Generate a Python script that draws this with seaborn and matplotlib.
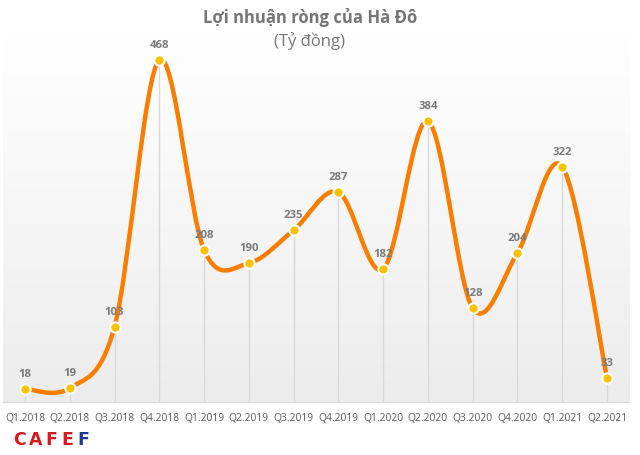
import numpy as np
import matplotlib
matplotlib.use("Agg")
import matplotlib.pyplot as plt
from matplotlib.path import Path
from matplotlib.patches import PathPatch
from matplotlib.colors import LinearSegmentedColormap
import seaborn as sns

quarters = ["Q1.2018", "Q2.2018", "Q3.2018", "Q4.2018", "Q1.2019", "Q2.2019", "Q3.2019",
            "Q4.2019", "Q1.2020", "Q2.2020", "Q3.2020", "Q4.2020", "Q1.2021", "Q2.2021"]
profit = [18, 19, 103, 468, 208, 190, 235, 287, 182, 384, 128, 204, 322, 33]

sns.set_style("white")
plt.rcParams['font.family'] = ['Open Sans', 'DejaVu Sans']

fig = plt.figure(figsize=(6.4, 4.55), dpi=100)
ax = fig.add_axes([2.6 / 640, 53 / 455, 626.8 / 640, 365.5 / 455])

x = np.arange(len(profit))
y = np.array(profit, dtype=float)

# background gradient (white top -> light grey bottom)
cmap = LinearSegmentedColormap.from_list("bg", ["#ECECEC", "#FFFFFF"])
ax.imshow(np.linspace(0, 1, 256).reshape(-1, 1), cmap=cmap, extent=[0, 1, 0, 1],
          transform=ax.transAxes, aspect='auto', origin='lower', zorder=0)

# drop lines
ax.vlines(x, 0, y, color="#D9D9D9", lw=1, zorder=1)

# smoothed line like excel (catmull-rom bezier)
pts = np.column_stack([x, y])
verts = [pts[0]]
codes = [Path.MOVETO]
n = len(pts)
for i in range(n - 1):
    p0 = pts[max(i - 1, 0)]
    p1 = pts[i]
    p2 = pts[i + 1]
    p3 = pts[min(i + 2, n - 1)]
    c1 = p1 + (p2 - p0) / 6
    c2 = p2 - (p3 - p1) / 6
    verts += [c1, c2, p2]
    codes += [Path.CURVE4] * 3
ax.add_patch(PathPatch(Path(verts, codes), fc="none", ec="#FA7D00", lw=3.2,
                       capstyle='round', zorder=2))

sns.scatterplot(x=x, y=y, ax=ax, color="#FFC000", s=55, edgecolor="white",
                linewidth=1.5, zorder=4, legend=False)

for xi, v in zip(x, profit):
    ax.annotate(str(v), (xi, v), xytext=(0, 10.5), textcoords="offset points",
                ha="center", va="center", fontsize=8.2, fontweight="bold",
                color="#7A7A7A", zorder=5)

ax.set_xlim(-0.5, len(profit) - 0.5)
ax.set_ylim(0, 500)
ax.set_xticks(x)
ax.set_xticklabels(quarters, fontsize=7.4, color="#595959")
ax.set_yticks([])
ax.tick_params(axis="x", length=0, pad=8)
for s in ["top", "left", "right"]:
    ax.spines[s].set_visible(False)
ax.spines["bottom"].set_color("#D9D9D9")
ax.spines["bottom"].set_linewidth(1)

fig.text(0.484, 0.962, "Lợi nhuận ròng của Hà Đô", ha="center", va="center",
         fontsize=12, fontweight="bold", color="#757575")
fig.text(0.484, 0.91, "(Tỷ đồng)", ha="center", va="center",
         fontsize=12, color="#757575")

# CAFEF logo as text
logo = "CAFEF"
logo_colors = ["#D71920", "#D71920", "#D71920", "#D71920", "#1B3C8C"]
for k, (ch, c) in enumerate(zip(logo, logo_colors)):
    fig.text((13 + k * 16.2) / 640, 0.033, ch, ha="left", va="center",
             fontsize=12.5, fontweight="bold", color=c,
             family="DejaVu Sans")

fig.savefig("out.png", dpi=100)
